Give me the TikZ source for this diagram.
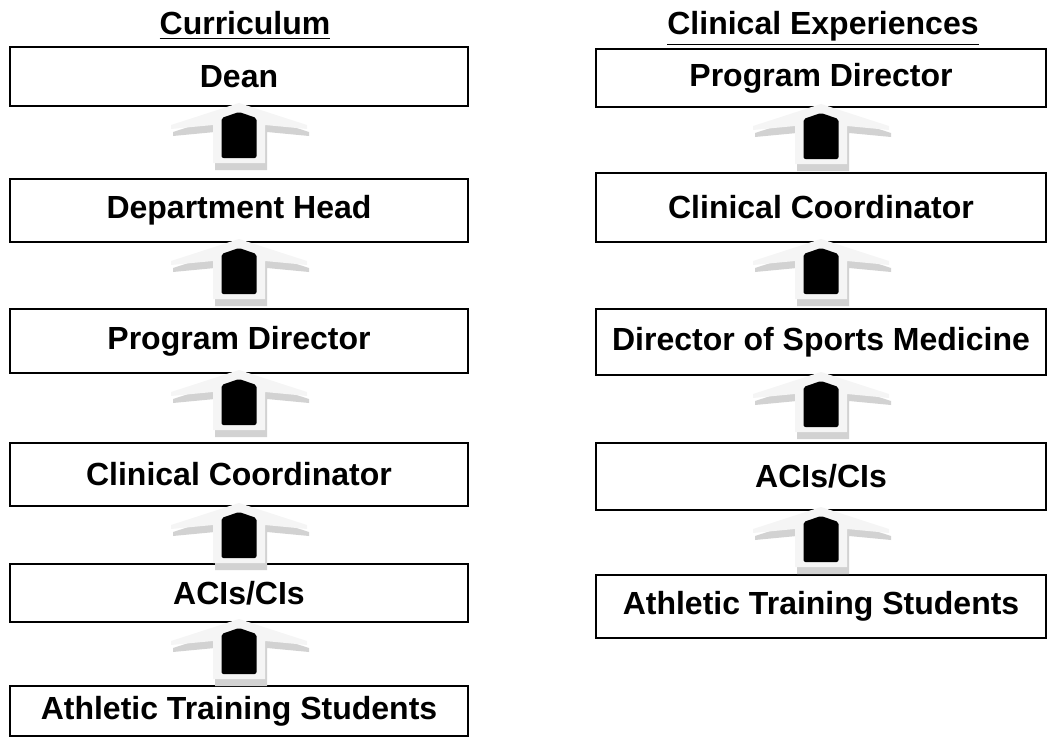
\documentclass[tikz,border=0pt]{standalone}
\usepackage{fontspec}
\setmainfont{Liberation Sans}

\tikzset{
  rank/.style={draw, line width=1pt, fill=white, inner sep=0pt,
    font=\fontsize{16}{19}\selectfont\bfseries},
  head/.style={anchor=base, font=\fontsize{16}{19}\selectfont\bfseries},
  uparrow/.pic={
    \foreach \dx/\dy/\col in {2/7/gray!35, 0/0/gray!8}
      \fill[\col, shift={(\dx,\dy)}] (0,-4) -- (68,18) -- (68,22) -- (26,18) -- (26,56)
        -- (-26,56) -- (-26,18) -- (-68,22) -- (-68,18) -- cycle;
    \fill[black, rounded corners=1pt] (0,5) -- (17.5,11) -- (17.5,51) -- (-17.5,51)
      -- (-17.5,11) -- cycle;
  }
}

\begin{document}
\begin{tikzpicture}[x=0.5pt,y=-0.5pt]
\useasboundingbox (0,0) rectangle (1048,738);
% curriculum
\node[head] (curtitle) at (245,35) {\underline{Curriculum}};
\node[rank, minimum width=229pt, minimum height=29.5pt] (cur1) at (239,76.5) {Dean};
\node[rank, minimum width=229pt, minimum height=31.5pt] (cur2) at (239,210.5) {Department Head};
\node[rank, minimum width=229pt, minimum height=32pt] (cur3) at (239,341) {Program Director};
\node[rank, minimum width=229pt, minimum height=31.5pt] (cur4) at (239,474.5) {Clinical Coordinator};
\node[rank, minimum width=229pt, minimum height=29pt] (cur5) at (239,593) {ACIs/CIs};
\node[rank, minimum width=229pt, minimum height=25pt] (cur6) at (239,711) {Athletic Training Students};
% clinical experiences
\node[head] (clintitle) at (823,35) {\underline{Clinical Experiences}};
\node[rank, minimum width=225pt, minimum height=29pt] (clin1) at (821,78) {Program Director};
\node[rank, minimum width=225pt, minimum height=34.5pt] (clin2) at (821,207.5) {Clinical Coordinator};
\node[rank, minimum width=225pt, minimum height=33pt] (clin3) at (821,342) {Director of Sports Medicine};
\node[rank, minimum width=225pt, minimum height=33.5pt] (clin4) at (821,476.5) {ACIs/CIs};
\node[rank, minimum width=225pt, minimum height=31.5pt] (clin5) at (821,606.5) {Athletic Training Students};
% arrows
\foreach \lvl in {cur1,cur2,cur3,cur4,cur5,clin1,clin2,clin3,clin4}
  \pic at (\lvl.south) {uparrow};
\end{tikzpicture}
\end{document}
